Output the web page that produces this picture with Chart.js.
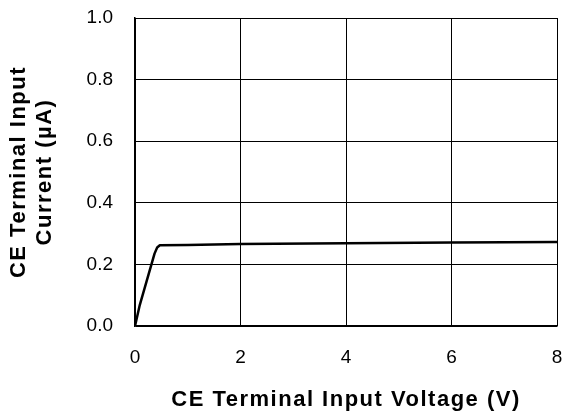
<!DOCTYPE html>
<html>
<head>
<meta charset="utf-8">
<script src="https://cdn.jsdelivr.net/npm/chart.js@4/dist/chart.umd.min.js"></script>
<style>
  html, body { margin: 0; padding: 0; background: #fff; }
  #wrap { width: 570px; height: 417px; }
</style>
</head>
<body>
<div id="wrap"><canvas id="ceChart" width="570" height="417"></canvas></div>
<script>
// values
const voltage = [0, 0.09, 0.37, 0.42, 0.47, 1, 2, 4, 6, 8];
const current = [0, 0.068, 0.235, 0.255, 0.262, 0.263, 0.266, 0.269, 0.271, 0.273];
const xTicks = [0, 2, 4, 6, 8];
const yTicks = [0, 0.2, 0.4, 0.6, 0.8, 1.0];

const fontFamily = "'Liberation Sans', Arial, sans-serif";

let points = voltage.map(function (v, i) {
    return { x: v, y: current[i] };
});

// the titles in the picture are set a bit wider than Arial, so add some tracking
const titleSpacing = {
    id: 'titleSpacing',
    afterUpdate: function (chart) {
        ['x', 'y'].forEach(function (id) {
            let scale = chart.scales[id];
            if (scale && !scale._spaced) {
                let orig = scale.drawTitle.bind(scale);
                scale.drawTitle = function () {
                    scale.ctx.save();
                    scale.ctx.letterSpacing = '1.5px';
                    orig();
                    scale.ctx.restore();
                };
                scale._spaced = true;
            }
        });
    }
};

new Chart(document.getElementById('ceChart'), {
    type: 'line',
    data: {
        datasets: [{
            data: points,
            borderColor: '#000',
            borderWidth: 2.5,
            borderJoinStyle: 'round',
            pointRadius: 0,
            tension: 0,
            fill: false
        }]
    },
    options: {
        responsive: false,
        animation: false,
        layout: { padding: { left: 0, right: 13, top: 18, bottom: 0 } },
        plugins: {
            legend: { display: false },
            tooltip: { enabled: false }
        },
        scales: {
            x: {
                type: 'linear',
                min: 0,
                max: 8,
                afterBuildTicks: function (axis) {
                    axis.ticks = xTicks.map(function (v) { return { value: v }; });
                },
                ticks: {
                    color: '#000',
                    font: { family: fontFamily, size: 19 },
                    padding: 4
                },
                // invisible tick marks just push the labels away from the frame
                grid: { color: '#000', lineWidth: 1, drawTicks: true, tickLength: 16, tickColor: 'rgba(0,0,0,0)' },
                border: { color: '#000', width: 1.5 },
                title: {
                    display: true,
                    text: 'CE Terminal Input Voltage (V)',
                    color: '#000',
                    font: { family: fontFamily, size: 22, weight: 'bold', lineHeight: 1.2 },
                    padding: { top: 13.5, bottom: 4.3 }
                }
            },
            y: {
                type: 'linear',
                min: 0,
                max: 1,
                afterBuildTicks: function (axis) {
                    axis.ticks = yTicks.map(function (v) { return { value: v }; });
                },
                ticks: {
                    color: '#000',
                    font: { family: fontFamily, size: 19 },
                    padding: 4,
                    callback: function (v) { return v.toFixed(1); }
                },
                grid: { color: '#000', lineWidth: 1, drawTicks: true, tickLength: 18, tickColor: 'rgba(0,0,0,0)' },
                border: { color: '#000', width: 1.5 },
                title: {
                    display: true,
                    text: ['CE Terminal Input', 'Current (\u00b5A)'],
                    color: '#000',
                    font: { family: fontFamily, size: 22, weight: 'bold', lineHeight: 1.2 },
                    padding: { top: 5.3, bottom: 24.5 }
                }
            }
        }
    },
    plugins: [titleSpacing]
});
</script>
</body>
</html>
